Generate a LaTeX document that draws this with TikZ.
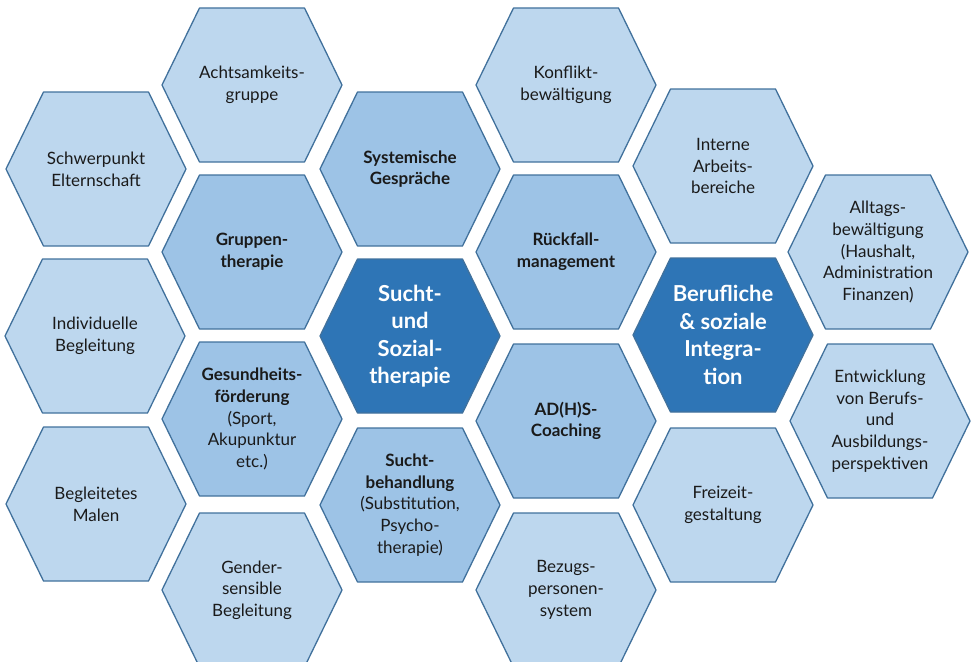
\documentclass[tikz,border=0pt]{standalone}
\usepackage{fontspec}
\setmainfont{Lato}
\usepackage{tikz}
\usepackage{xcolor}
\definecolor{hexlightfill}{HTML}{BDD7EE}
\definecolor{hexmidfill}{HTML}{9DC3E6}
\definecolor{hexdarkfill}{HTML}{2E75B6}
\definecolor{hexborder}{HTML}{41719C}
\definecolor{hextext}{HTML}{1A1A1A}

\begin{document}
\begin{tikzpicture}[x=1pt,y=-1pt,
  hexlight/.style={fill=hexlightfill,draw=hexborder,line width=1.3pt,line join=round},
  hexmid/.style={fill=hexmidfill,draw=hexborder,line width=1.3pt,line join=round},
  hexdark/.style={fill=hexdarkfill,draw=hexborder,line width=1.3pt,line join=round},
  txtlight/.style={align=center,text=hextext,font=\fontsize{17}{21.7}\selectfont},
  txtmid/.style={align=center,text=hextext,font=\fontsize{17}{21.7}\selectfont},
  txtdark/.style={align=center,text=white,font=\fontsize{22}{27.5}\selectfont\bfseries}
]
\useasboundingbox (0,0) rectangle (973,661);

\foreach \cx/\cy/\k/\n/\t in {
  96/169/light/eltern/{Schwerpunkt\\Elternschaft},
  95/336/light/indiv/{Individuelle\\Begleitung},
  96/504/light/malen/{Begleitetes\\Malen},
  252/85/light/achtsam/{Achtsamkeits-\\gruppe},
  252/252/mid/gruppe/{\textbf{Gruppen-}\\\textbf{therapie}},
  252/419/mid/gesund/{\textbf{Gesundheits-}\\\textbf{förderung}\\(Sport,\\Akupunktur\\etc.)},
  252/590/light/gender/{Gender-\\sensible\\Begleitung},
  410/169/mid/system/{\textbf{Systemische}\\\textbf{Gespräche}},
  410/336/dark/sucht/{Sucht-\\und\\Sozial-\\therapie},
  410/505/mid/behand/{\textbf{Sucht-}\\\textbf{behandlung}\\(Substitution,\\Psycho-\\therapie)},
  566/85/light/konflikt/{Konflikt-\\bewältigung},
  566/252/mid/rueck/{\textbf{Rückfall-}\\\textbf{management}},
  566/421/mid/adhs/{\textbf{AD(H)S-}\\\textbf{Coaching}},
  566/590/light/bezug/{Bezugs-\\personen-\\system},
  723/166/light/intern/{Interne\\Arbeits-\\bereiche},
  723/335/dark/beruf/{Berufliche\\\& soziale\\Integra-\\tion},
  723/505/light/freizeit/{Freizeit-\\gestaltung},
  878/252/light/alltag/{Alltags-\\bewältigung\\(Haushalt,\\Administration\\Finanzen)},
  880/421/light/entw/{Entwicklung\\von Berufs-\\und\\Ausbildungs-\\perspektiven}}
{
  \draw[hex\k] (\cx,\cy) ++(-90,0) -- ++(37.5,-77) -- ++(105,0) -- ++(37.5,77)
    -- ++(-37.5,77) -- ++(-105,0) -- cycle;
  \node[txt\k] (\n) at (\cx,\cy) {\t};
}
\end{tikzpicture}
\end{document}
